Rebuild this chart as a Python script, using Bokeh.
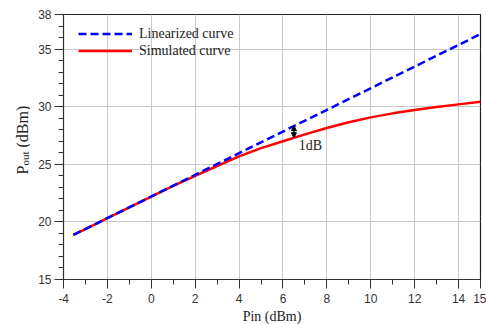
import math
from bokeh.plotting import figure
from bokeh.layouts import row
from bokeh.models import FixedTicker, Label, Arrow, NormalHead, Legend, LegendItem, Range1d
from bokeh.embed import file_html
from bokeh.resources import INLINE

# ---- data ----
lin_x = [-3.55, 15.0]
lin_y = [18.87, 36.3]

sim_x = [-3.55, -3, -2, -1, 0, 1, 2, 3, 4, 5, 6, 7, 8, 9, 10, 11, 12, 13, 14, 15]
sim_y = [18.87, 19.38, 20.32, 21.26, 22.2, 23.12, 24.0, 24.85, 25.68, 26.4,
         27.0, 27.6, 28.15, 28.65, 29.07, 29.42, 29.72, 29.98, 30.2, 30.42]

x_ticks = [-4, -2, 0, 2, 4, 6, 8, 10, 12, 14, 15]
x_minor = [-3, -1, 1, 3, 5, 7, 9, 11, 13]
y_ticks = [15, 20, 25, 30, 35, 38]
y_minor = [16, 17, 18, 19, 21, 22, 23, 24, 26, 27, 28, 29, 31, 32, 33, 34, 36, 37]

p1db_x = 6.5
p1db_lin = 28.35
p1db_sim = 27.3
p1db_text = "1dB"

legend_labels = ["Linearized curve", "Simulated curve"]
x_label = "Pin (dBm)"
y_label_parts = ["P", "out", "(dBm)"]

SERIF = "'Liberation Serif'"
SANS = "'Liberation Sans'"

LEFT_W = 30
H = 324

p = figure(frame_width=417, frame_height=265, x_range=(-4, 15), y_range=(15, 38),
           output_backend="svg", toolbar_location=None,
           min_border_left=63 - LEFT_W, min_border_right=6, min_border_top=14, min_border_bottom=45)

p.background_fill_color = "white"
p.border_fill_color = "white"
p.outline_line_color = "#222222"
p.outline_line_width = 1.2

p.xaxis.ticker = FixedTicker(ticks=x_ticks, minor_ticks=x_minor)
p.yaxis.ticker = FixedTicker(ticks=y_ticks, minor_ticks=y_minor)
p.xaxis.major_label_overrides = {t: str(t) for t in x_ticks}
p.xgrid.ticker = FixedTicker(ticks=x_ticks)
p.ygrid.ticker = FixedTicker(ticks=y_ticks)
p.grid.grid_line_color = "#c8c8c8"
p.grid.grid_line_width = 1

for ax in (p.xaxis, p.yaxis):
    ax.axis_line_color = "#333333"
    ax.major_tick_line_color = "#333333"
    ax.minor_tick_line_color = "#333333"
    ax.major_tick_in = 0
    ax.major_tick_out = 9
    ax.minor_tick_in = 0
    ax.minor_tick_out = 5
    ax.major_label_text_font = SANS
    ax.major_label_text_font_size = "12px"
    ax.major_label_text_color = "#333333"

p.xaxis.major_label_standoff = 5
p.yaxis.major_label_standoff = 3
p.xaxis.axis_label = x_label
p.xaxis.axis_label_text_font = SERIF
p.xaxis.axis_label_text_font_style = "normal"
p.xaxis.axis_label_text_font_size = "14px"
p.xaxis.axis_label_text_color = "#222222"
p.xaxis.axis_label_standoff = 3

r_sim = p.line(sim_x, sim_y, line_color="#ff0000", line_width=2.5)
r_lin = p.line(lin_x, lin_y, line_color="#0000ff", line_width=2.5, line_dash="8 4")

legend = Legend(items=[LegendItem(label=legend_labels[0], renderers=[r_lin]),
                       LegendItem(label=legend_labels[1], renderers=[r_sim])],
                location=(15, 220), glyph_width=54, glyph_height=17, label_height=17,
                spacing=0, margin=0, padding=0, label_standoff=7)
legend.background_fill_alpha = 0
legend.border_line_alpha = 0
legend.label_text_font = SERIF
legend.label_text_font_size = "14px"
legend.label_text_color = "#222222"
p.add_layout(legend)

# 1 dB arrow
p.add_layout(Arrow(x_start=p1db_x, y_start=p1db_sim, x_end=p1db_x, y_end=p1db_lin,
                   line_color="black", line_width=1.5,
                   start=NormalHead(size=5, line_color="black", fill_color="black"),
                   end=NormalHead(size=5, line_color="black", fill_color="black")))
p.add_layout(Label(x=6.72, y=26.62, text=p1db_text, text_font=SERIF, text_font_size="14px",
                   text_baseline="middle", text_align="left", text_color="#222222"))

# narrow left panel carrying the y-axis title with subscript
lp = figure(width=LEFT_W, height=H, x_range=Range1d(0, LEFT_W), y_range=Range1d(0, H),
            output_backend="svg", toolbar_location=None, min_border=0)
lp.axis.visible = False
lp.grid.visible = False
lp.outline_line_color = None
lp.background_fill_color = "white"
lp.border_fill_color = "white"
# screen y measured from the (row-aligned) frame bottom
for txt, sx, sy, fs in zip(y_label_parts, [22, 24, 22], [103, 112, 130],
                           ["16px", "11px", "16px"]):
    lp.add_layout(Label(x=sx, y=sy, x_units="screen", y_units="screen", text=txt,
                        angle=math.pi / 2, text_font=SERIF, text_font_size=fs,
                        text_baseline="alphabetic", text_align="left", text_color="#222222"))

layout = row(lp, p, spacing=0)
open("out.html", "w").write(file_html(layout, INLINE))
